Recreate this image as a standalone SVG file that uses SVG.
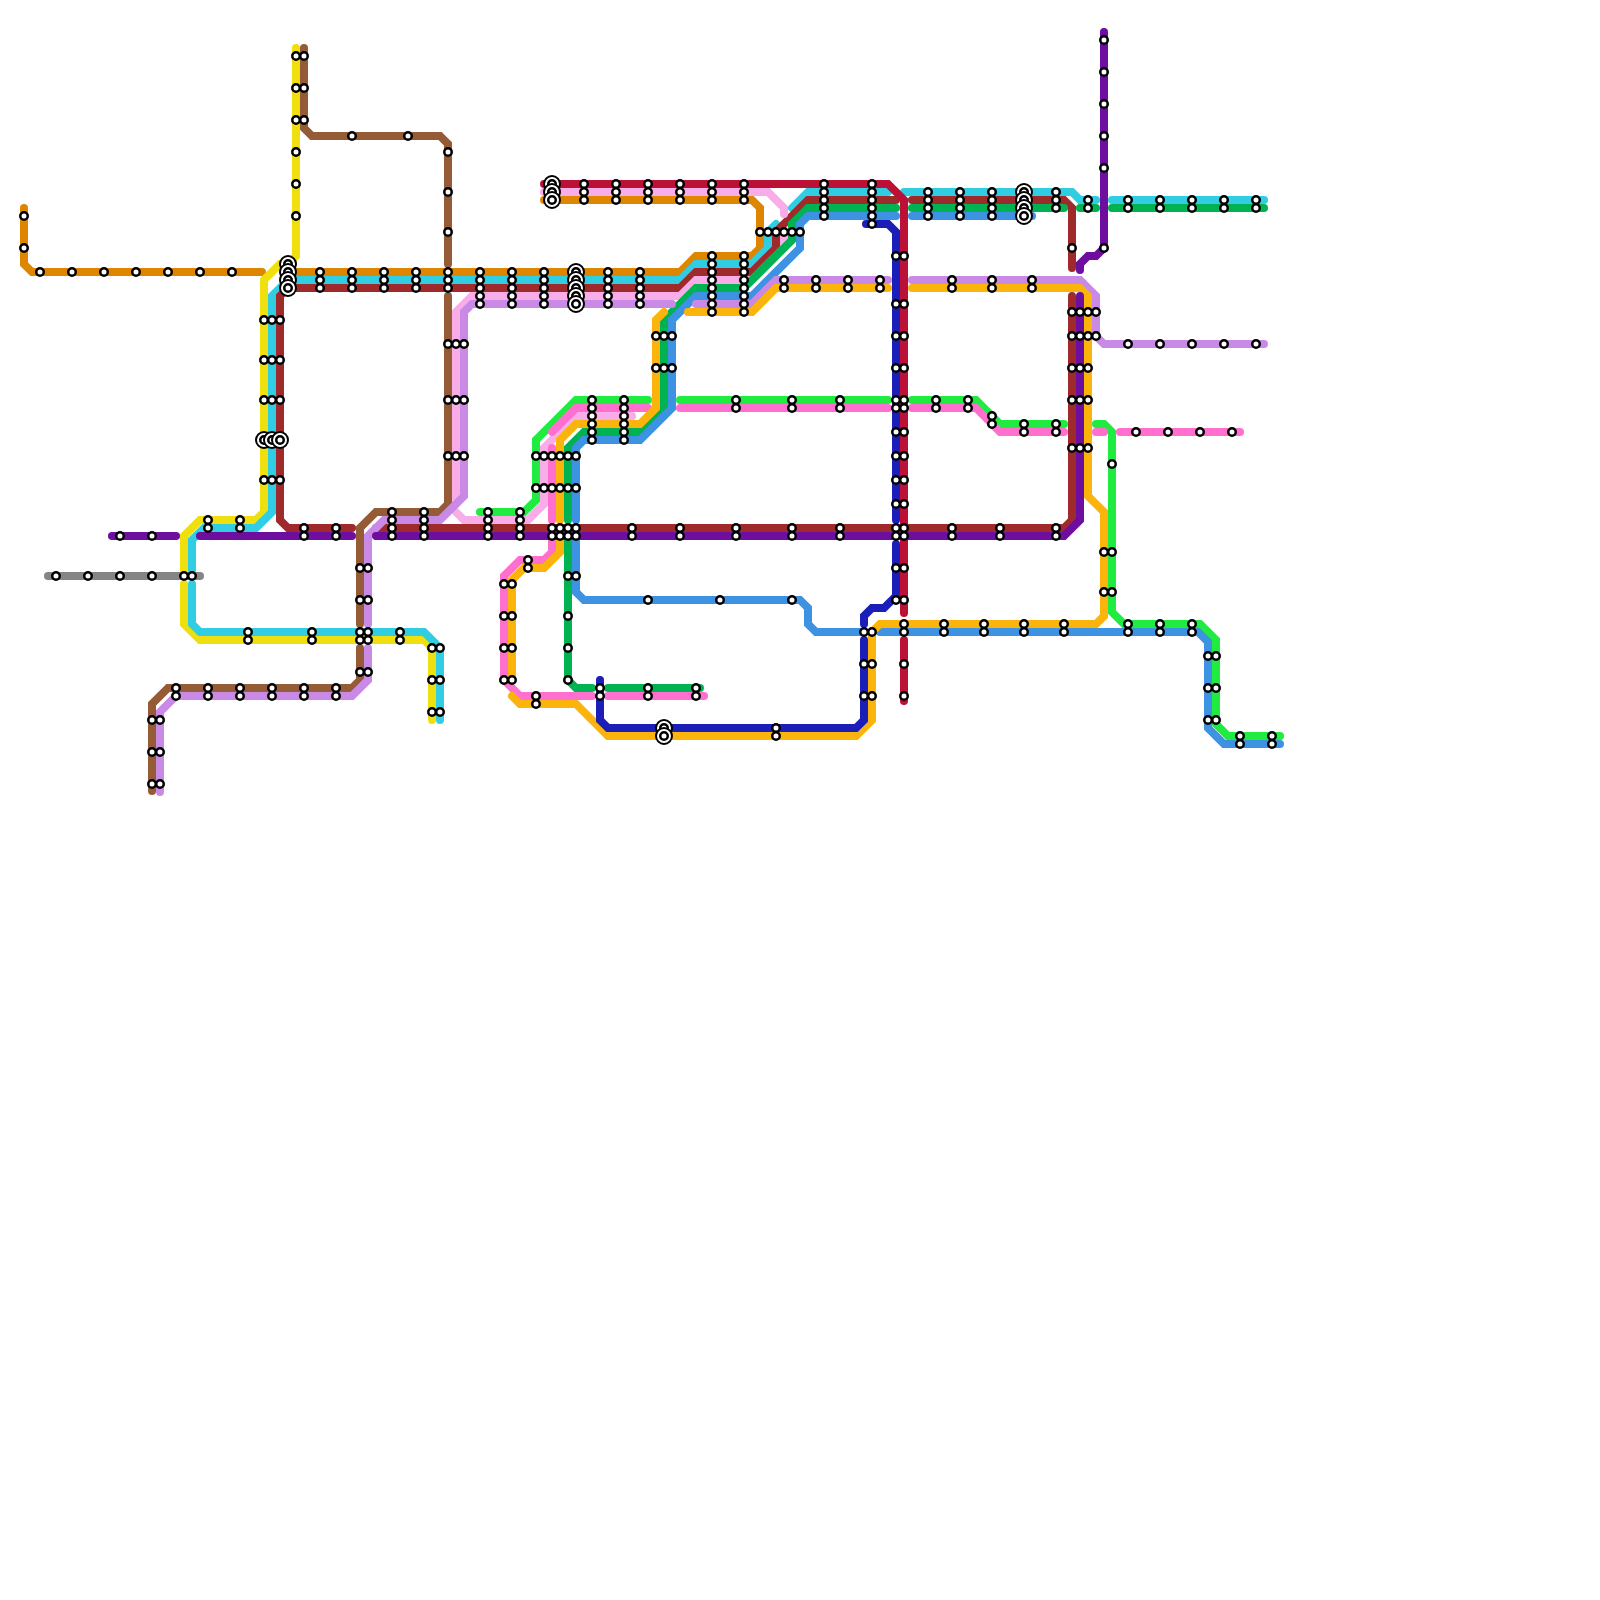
<svg xmlns="http://www.w3.org/2000/svg" width="1600" height="1600" viewBox="0 0 1600 1600">
<style>
path{fill:none;stroke-width:8;stroke-linecap:round;stroke-linejoin:miter}
.o{stroke:#DF8600}.y{stroke:#F0DF0F}.br{stroke:#955B37}.c{stroke:#31CDE3}.dr{stroke:#9E2A2B}.lp{stroke:#F9ADE8}.li{stroke:#C98AE6}.g{stroke:#1FEB41}.p{stroke:#FF70CE}.a{stroke:#FBB40B}.mg{stroke:#00B251}.bl{stroke:#3E92E2}.cr{stroke:#BC1137}.in{stroke:#1B1FB8}.pu{stroke:#6E0E9E}.gy{stroke:#858585}
.s{fill:#fff;stroke:#000;stroke-width:2.5;r:3.75px}
.b{fill:#fff;stroke:#000;stroke-width:2;r:8px}
</style>
<rect width="1600" height="1600" fill="#fff"/>
<g id="connectors">
<path class="gy" d="M48 576H200"/>
<path class="o" d="M24 208V264L32 272H262"/>
<path class="o" d="M544 200H752L760 208V248L752 256H696L680 272H296"/>
<path class="y" d="M296 48V256L288 264H280L264 280V512L256 520H200L184 536V570"/>
<path class="y" d="M184 584V624L200 640H424L432 648V720"/>
<path class="c" d="M192 570V540L204 528H256L272 512V296L288 280H680L696 264H752L768 248V232L776 224"/>
<path class="c" d="M792 208L808 192H888"/>
<path class="c" d="M904 192H1072L1080 200H1096"/>
<path class="c" d="M1112 200H1264"/>
<path class="c" d="M192 584V624L200 632H424L440 648V720"/>
<path class="br" d="M304 48V128L312 136H440L448 144V264"/>
<path class="br" d="M448 296V504L440 512H376L360 528V624"/>
<path class="br" d="M360 648V680L352 688H168L152 704V791"/>
<path class="dr" d="M288 288H680L696 272H752L776 248V232L808 200H896"/>
<path class="dr" d="M912 200H1064L1072 208V268"/>
<path class="dr" d="M288 288L280 296V520L288 528H352"/>
<path class="dr" d="M376 528H1064L1072 520V296"/>
<path class="lp" d="M544 192H768L784 208V214"/>
<path class="lp" d="M784 232V248L752 280H696L680 296H472L456 312V504"/>
<path class="lp" d="M456 512L464 520H528L544 504V448L576 416H632"/>
<path class="g" d="M480 512H524L536 500V440L576 400H648"/>
<path class="g" d="M680 400H888"/>
<path class="g" d="M912 400H976L1000 424H1064"/>
<path class="g" d="M1096 424H1104L1112 432V612L1124 624H1200L1216 640V724L1228 736H1280"/>
<path class="p" d="M648 408H576L552 432"/>
<path class="p" d="M552 448V520"/>
<path class="p" d="M552 540V552L544 560H520L504 576V680L520 696H592"/>
<path class="p" d="M608 696H704"/>
<path class="p" d="M680 408H888"/>
<path class="p" d="M912 408H976L1000 432H1064"/>
<path class="p" d="M1096 432H1104"/>
<path class="p" d="M1120 432H1240"/>
<path class="mg" d="M896 208H808L792 224V240L744 288H696L664 320V408L640 432H584L568 448V520"/>
<path class="mg" d="M568 540V680L576 688H592"/>
<path class="mg" d="M608 688H700"/>
<path class="mg" d="M912 208H1064"/>
<path class="mg" d="M1080 208H1096"/>
<path class="mg" d="M1112 208H1264"/>
<path class="bl" d="M896 216H808L800 224V248L752 296H696L672 320V408L640 440H584L576 448V520"/>
<path class="bl" d="M576 540V592L584 600H800L808 608V624L816 632H864"/>
<path class="bl" d="M880 632H1198L1208 642V728L1224 744H1280"/>
<path class="bl" d="M912 216H1032"/>
<path class="li" d="M672 304H472L464 312V496L440 520H384L368 536V624"/>
<path class="li" d="M368 648V680L352 696H176L160 712V792"/>
<path class="li" d="M696 304H752L776 280H888"/>
<path class="li" d="M912 280H1080L1096 296V336L1104 344H1264"/>
<path class="a" d="M664 312L656 320V408L640 424H576L560 440V520"/>
<path class="a" d="M560 540V552L544 568H524L512 580V680"/>
<path class="a" d="M512 696L520 704H576L608 736H856L872 720V632L880 624H1096L1104 616V512L1088 496V296L1080 288H912"/>
<path class="a" d="M688 312H752L776 288H888"/>
<path class="cr" d="M544 184H888L904 200V613"/>
<path class="cr" d="M904 640V701"/>
<path class="in" d="M866 224H888L896 232V520"/>
<path class="in" d="M896 544V596L884 608H872L864 616V624"/>
<path class="in" d="M864 640V720L856 728H608L600 720V680"/>
<path class="pu" d="M112 536H176"/>
<path class="pu" d="M200 536H352"/>
<path class="pu" d="M376 536H1064L1080 520V296"/>
<path class="pu" d="M1104 32V248L1096 256H1088L1080 264V270"/>
</g>
<g id="stations">
<g id="n-orange"><circle class="s" cx="24" cy="216"/><circle class="s" cx="24" cy="248"/><circle class="s" cx="40" cy="272"/><circle class="s" cx="72" cy="272"/><circle class="s" cx="104" cy="272"/><circle class="s" cx="136" cy="272"/><circle class="s" cx="168" cy="272"/><circle class="s" cx="200" cy="272"/><circle class="s" cx="232" cy="272"/></g>
<g id="n-north"><circle class="s" cx="296" cy="56"/><circle class="s" cx="304" cy="56"/><circle class="s" cx="296" cy="88"/><circle class="s" cx="304" cy="88"/><circle class="s" cx="296" cy="120"/><circle class="s" cx="304" cy="120"/><circle class="s" cx="296" cy="152"/><circle class="s" cx="296" cy="184"/><circle class="s" cx="296" cy="216"/><circle class="s" cx="352" cy="136"/><circle class="s" cx="408" cy="136"/><circle class="s" cx="448" cy="152"/><circle class="s" cx="448" cy="192"/><circle class="s" cx="448" cy="232"/></g>
<g id="n-hub288"><circle class="b" cx="288" cy="264"/><circle class="s" cx="288" cy="264"/><circle class="b" cx="288" cy="272"/><circle class="s" cx="288" cy="272"/><circle class="b" cx="288" cy="280"/><circle class="s" cx="288" cy="280"/><circle class="b" cx="288" cy="288"/><circle class="s" cx="288" cy="288"/></g>
<g id="n-row3"><circle class="s" cx="320" cy="272"/><circle class="s" cx="320" cy="280"/><circle class="s" cx="320" cy="288"/><circle class="s" cx="352" cy="272"/><circle class="s" cx="352" cy="280"/><circle class="s" cx="352" cy="288"/><circle class="s" cx="384" cy="272"/><circle class="s" cx="384" cy="280"/><circle class="s" cx="384" cy="288"/><circle class="s" cx="416" cy="272"/><circle class="s" cx="416" cy="280"/><circle class="s" cx="416" cy="288"/><circle class="s" cx="448" cy="272"/><circle class="s" cx="448" cy="280"/><circle class="s" cx="448" cy="288"/></g>
<g id="n-row5"><circle class="s" cx="480" cy="272"/><circle class="s" cx="480" cy="280"/><circle class="s" cx="480" cy="288"/><circle class="s" cx="480" cy="296"/><circle class="s" cx="480" cy="304"/><circle class="s" cx="512" cy="272"/><circle class="s" cx="512" cy="280"/><circle class="s" cx="512" cy="288"/><circle class="s" cx="512" cy="296"/><circle class="s" cx="512" cy="304"/><circle class="s" cx="544" cy="272"/><circle class="s" cx="544" cy="280"/><circle class="s" cx="544" cy="288"/><circle class="s" cx="544" cy="296"/><circle class="s" cx="544" cy="304"/><circle class="s" cx="608" cy="272"/><circle class="s" cx="608" cy="280"/><circle class="s" cx="608" cy="288"/><circle class="s" cx="608" cy="296"/><circle class="s" cx="608" cy="304"/><circle class="s" cx="640" cy="272"/><circle class="s" cx="640" cy="280"/><circle class="s" cx="640" cy="288"/><circle class="s" cx="640" cy="296"/><circle class="s" cx="640" cy="304"/></g>
<g id="n-hub576"><circle class="b" cx="576" cy="272"/><circle class="s" cx="576" cy="272"/><circle class="b" cx="576" cy="280"/><circle class="s" cx="576" cy="280"/><circle class="b" cx="576" cy="288"/><circle class="s" cx="576" cy="288"/><circle class="b" cx="576" cy="296"/><circle class="s" cx="576" cy="296"/><circle class="b" cx="576" cy="304"/><circle class="s" cx="576" cy="304"/></g>
<g id="n-hub552"><circle class="b" cx="552" cy="184"/><circle class="s" cx="552" cy="184"/><circle class="b" cx="552" cy="192"/><circle class="s" cx="552" cy="192"/><circle class="b" cx="552" cy="200"/><circle class="s" cx="552" cy="200"/></g>
<g id="n-top3"><circle class="s" cx="584" cy="184"/><circle class="s" cx="584" cy="192"/><circle class="s" cx="584" cy="200"/><circle class="s" cx="616" cy="184"/><circle class="s" cx="616" cy="192"/><circle class="s" cx="616" cy="200"/><circle class="s" cx="648" cy="184"/><circle class="s" cx="648" cy="192"/><circle class="s" cx="648" cy="200"/><circle class="s" cx="680" cy="184"/><circle class="s" cx="680" cy="192"/><circle class="s" cx="680" cy="200"/><circle class="s" cx="712" cy="184"/><circle class="s" cx="712" cy="192"/><circle class="s" cx="712" cy="200"/><circle class="s" cx="744" cy="184"/><circle class="s" cx="744" cy="192"/><circle class="s" cx="744" cy="200"/></g>
<g id="n-x712"><circle class="s" cx="712" cy="256"/><circle class="s" cx="712" cy="264"/><circle class="s" cx="712" cy="272"/><circle class="s" cx="712" cy="280"/><circle class="s" cx="712" cy="288"/><circle class="s" cx="712" cy="296"/><circle class="s" cx="712" cy="304"/><circle class="s" cx="712" cy="312"/></g>
<g id="n-x744"><circle class="s" cx="744" cy="256"/><circle class="s" cx="744" cy="264"/><circle class="s" cx="744" cy="272"/><circle class="s" cx="744" cy="280"/><circle class="s" cx="744" cy="288"/><circle class="s" cx="744" cy="296"/><circle class="s" cx="744" cy="304"/><circle class="s" cx="744" cy="312"/></g>
<g id="n-y232"><circle class="s" cx="760" cy="232"/><circle class="s" cx="768" cy="232"/><circle class="s" cx="776" cy="232"/><circle class="s" cx="784" cy="232"/><circle class="s" cx="792" cy="232"/><circle class="s" cx="800" cy="232"/></g>
<g id="n-pairs280"><circle class="s" cx="784" cy="280"/><circle class="s" cx="784" cy="288"/><circle class="s" cx="816" cy="280"/><circle class="s" cx="816" cy="288"/><circle class="s" cx="848" cy="280"/><circle class="s" cx="848" cy="288"/><circle class="s" cx="880" cy="280"/><circle class="s" cx="880" cy="288"/><circle class="s" cx="952" cy="280"/><circle class="s" cx="952" cy="288"/><circle class="s" cx="992" cy="280"/><circle class="s" cx="992" cy="288"/><circle class="s" cx="1032" cy="280"/><circle class="s" cx="1032" cy="288"/></g>
<g id="n-x824"><circle class="s" cx="824" cy="184"/><circle class="s" cx="824" cy="192"/><circle class="s" cx="824" cy="200"/><circle class="s" cx="824" cy="208"/><circle class="s" cx="824" cy="216"/></g>
<g id="n-x872"><circle class="s" cx="872" cy="184"/><circle class="s" cx="872" cy="192"/><circle class="s" cx="872" cy="200"/><circle class="s" cx="872" cy="208"/><circle class="s" cx="872" cy="216"/><circle class="s" cx="872" cy="224"/></g>
<g id="n-east4"><circle class="s" cx="928" cy="192"/><circle class="s" cx="928" cy="200"/><circle class="s" cx="928" cy="208"/><circle class="s" cx="928" cy="216"/><circle class="s" cx="960" cy="192"/><circle class="s" cx="960" cy="200"/><circle class="s" cx="960" cy="208"/><circle class="s" cx="960" cy="216"/><circle class="s" cx="992" cy="192"/><circle class="s" cx="992" cy="200"/><circle class="s" cx="992" cy="208"/><circle class="s" cx="992" cy="216"/></g>
<g id="n-hub1024"><circle class="b" cx="1024" cy="192"/><circle class="s" cx="1024" cy="192"/><circle class="b" cx="1024" cy="200"/><circle class="s" cx="1024" cy="200"/><circle class="b" cx="1024" cy="208"/><circle class="s" cx="1024" cy="208"/><circle class="b" cx="1024" cy="216"/><circle class="s" cx="1024" cy="216"/></g>
<g id="n-east"><circle class="s" cx="1056" cy="192"/><circle class="s" cx="1056" cy="200"/><circle class="s" cx="1056" cy="208"/><circle class="s" cx="1088" cy="200"/><circle class="s" cx="1088" cy="208"/><circle class="s" cx="1128" cy="200"/><circle class="s" cx="1128" cy="208"/><circle class="s" cx="1160" cy="200"/><circle class="s" cx="1160" cy="208"/><circle class="s" cx="1192" cy="200"/><circle class="s" cx="1192" cy="208"/><circle class="s" cx="1224" cy="200"/><circle class="s" cx="1224" cy="208"/><circle class="s" cx="1256" cy="200"/><circle class="s" cx="1256" cy="208"/><circle class="s" cx="1072" cy="248"/></g>
<g id="n-purple-n"><circle class="s" cx="1104" cy="40"/><circle class="s" cx="1104" cy="72"/><circle class="s" cx="1104" cy="104"/><circle class="s" cx="1104" cy="136"/><circle class="s" cx="1104" cy="168"/><circle class="s" cx="1104" cy="248"/></g>
<g id="n-lilac-e"><circle class="s" cx="1128" cy="344"/><circle class="s" cx="1160" cy="344"/><circle class="s" cx="1192" cy="344"/><circle class="s" cx="1224" cy="344"/><circle class="s" cx="1256" cy="344"/></g>
<g id="n-x1072"><circle class="s" cx="1072" cy="312"/><circle class="s" cx="1080" cy="312"/><circle class="s" cx="1088" cy="312"/><circle class="s" cx="1096" cy="312"/><circle class="s" cx="1072" cy="336"/><circle class="s" cx="1080" cy="336"/><circle class="s" cx="1088" cy="336"/><circle class="s" cx="1096" cy="336"/><circle class="s" cx="1072" cy="368"/><circle class="s" cx="1080" cy="368"/><circle class="s" cx="1088" cy="368"/><circle class="s" cx="1072" cy="400"/><circle class="s" cx="1080" cy="400"/><circle class="s" cx="1088" cy="400"/><circle class="s" cx="1072" cy="448"/><circle class="s" cx="1080" cy="448"/><circle class="s" cx="1088" cy="448"/></g>
<g id="n-col896"><circle class="s" cx="896" cy="256"/><circle class="s" cx="904" cy="256"/><circle class="s" cx="896" cy="304"/><circle class="s" cx="904" cy="304"/><circle class="s" cx="896" cy="336"/><circle class="s" cx="904" cy="336"/><circle class="s" cx="896" cy="368"/><circle class="s" cx="904" cy="368"/><circle class="s" cx="896" cy="400"/><circle class="s" cx="904" cy="400"/><circle class="s" cx="896" cy="408"/><circle class="s" cx="904" cy="408"/><circle class="s" cx="896" cy="432"/><circle class="s" cx="904" cy="432"/><circle class="s" cx="896" cy="456"/><circle class="s" cx="904" cy="456"/><circle class="s" cx="896" cy="480"/><circle class="s" cx="904" cy="480"/><circle class="s" cx="896" cy="504"/><circle class="s" cx="904" cy="504"/><circle class="s" cx="896" cy="528"/><circle class="s" cx="904" cy="528"/><circle class="s" cx="896" cy="536"/><circle class="s" cx="904" cy="536"/><circle class="s" cx="896" cy="568"/><circle class="s" cx="904" cy="568"/><circle class="s" cx="896" cy="600"/><circle class="s" cx="904" cy="600"/><circle class="s" cx="904" cy="664"/><circle class="s" cx="904" cy="696"/></g>
<g id="n-green400"><circle class="s" cx="736" cy="400"/><circle class="s" cx="736" cy="408"/><circle class="s" cx="792" cy="400"/><circle class="s" cx="792" cy="408"/><circle class="s" cx="840" cy="400"/><circle class="s" cx="840" cy="408"/><circle class="s" cx="936" cy="400"/><circle class="s" cx="936" cy="408"/><circle class="s" cx="968" cy="400"/><circle class="s" cx="968" cy="408"/><circle class="s" cx="992" cy="416"/><circle class="s" cx="992" cy="424"/><circle class="s" cx="1024" cy="424"/><circle class="s" cx="1024" cy="432"/><circle class="s" cx="1056" cy="424"/><circle class="s" cx="1056" cy="432"/></g>
<g id="n-pink-e"><circle class="s" cx="1136" cy="432"/><circle class="s" cx="1168" cy="432"/><circle class="s" cx="1200" cy="432"/><circle class="s" cx="1232" cy="432"/><circle class="s" cx="1112" cy="464"/></g>
<g id="n-amber-green"><circle class="s" cx="1104" cy="552"/><circle class="s" cx="1112" cy="552"/><circle class="s" cx="1104" cy="592"/><circle class="s" cx="1112" cy="592"/></g>
<g id="n-y624"><circle class="s" cx="904" cy="624"/><circle class="s" cx="904" cy="632"/><circle class="s" cx="944" cy="624"/><circle class="s" cx="944" cy="632"/><circle class="s" cx="984" cy="624"/><circle class="s" cx="984" cy="632"/><circle class="s" cx="1024" cy="624"/><circle class="s" cx="1024" cy="632"/><circle class="s" cx="1064" cy="624"/><circle class="s" cx="1064" cy="632"/><circle class="s" cx="1128" cy="624"/><circle class="s" cx="1128" cy="632"/><circle class="s" cx="1160" cy="624"/><circle class="s" cx="1160" cy="632"/><circle class="s" cx="1192" cy="624"/><circle class="s" cx="1192" cy="632"/></g>
<g id="n-se"><circle class="s" cx="1208" cy="656"/><circle class="s" cx="1216" cy="656"/><circle class="s" cx="1208" cy="688"/><circle class="s" cx="1216" cy="688"/><circle class="s" cx="1208" cy="720"/><circle class="s" cx="1216" cy="720"/><circle class="s" cx="1240" cy="736"/><circle class="s" cx="1240" cy="744"/><circle class="s" cx="1272" cy="736"/><circle class="s" cx="1272" cy="744"/></g>
<g id="n-x864"><circle class="s" cx="864" cy="632"/><circle class="s" cx="872" cy="632"/><circle class="s" cx="864" cy="664"/><circle class="s" cx="872" cy="664"/><circle class="s" cx="864" cy="696"/><circle class="s" cx="872" cy="696"/></g>
<g id="n-y528"><circle class="s" cx="304" cy="528"/><circle class="s" cx="304" cy="536"/><circle class="s" cx="336" cy="528"/><circle class="s" cx="336" cy="536"/><circle class="s" cx="552" cy="528"/><circle class="s" cx="552" cy="536"/><circle class="s" cx="560" cy="528"/><circle class="s" cx="560" cy="536"/><circle class="s" cx="568" cy="528"/><circle class="s" cx="568" cy="536"/><circle class="s" cx="576" cy="528"/><circle class="s" cx="576" cy="536"/><circle class="s" cx="632" cy="528"/><circle class="s" cx="632" cy="536"/><circle class="s" cx="680" cy="528"/><circle class="s" cx="680" cy="536"/><circle class="s" cx="736" cy="528"/><circle class="s" cx="736" cy="536"/><circle class="s" cx="792" cy="528"/><circle class="s" cx="792" cy="536"/><circle class="s" cx="840" cy="528"/><circle class="s" cx="840" cy="536"/><circle class="s" cx="952" cy="528"/><circle class="s" cx="952" cy="536"/><circle class="s" cx="1000" cy="528"/><circle class="s" cx="1000" cy="536"/><circle class="s" cx="1056" cy="528"/><circle class="s" cx="1056" cy="536"/></g>
<g id="n-y512"><circle class="s" cx="392" cy="512"/><circle class="s" cx="392" cy="520"/><circle class="s" cx="392" cy="528"/><circle class="s" cx="392" cy="536"/><circle class="s" cx="424" cy="512"/><circle class="s" cx="424" cy="520"/><circle class="s" cx="424" cy="528"/><circle class="s" cx="424" cy="536"/><circle class="s" cx="488" cy="512"/><circle class="s" cx="488" cy="520"/><circle class="s" cx="488" cy="528"/><circle class="s" cx="488" cy="536"/><circle class="s" cx="520" cy="512"/><circle class="s" cx="520" cy="520"/><circle class="s" cx="520" cy="528"/><circle class="s" cx="520" cy="536"/></g>
<g id="n-x264"><circle class="s" cx="264" cy="320"/><circle class="s" cx="272" cy="320"/><circle class="s" cx="280" cy="320"/><circle class="s" cx="264" cy="360"/><circle class="s" cx="272" cy="360"/><circle class="s" cx="280" cy="360"/><circle class="s" cx="264" cy="400"/><circle class="s" cx="272" cy="400"/><circle class="s" cx="280" cy="400"/><circle class="s" cx="264" cy="480"/><circle class="s" cx="272" cy="480"/><circle class="s" cx="280" cy="480"/></g>
<g id="n-hub440"><circle class="b" cx="264" cy="440"/><circle class="s" cx="264" cy="440"/><circle class="b" cx="272" cy="440"/><circle class="s" cx="272" cy="440"/><circle class="b" cx="280" cy="440"/><circle class="s" cx="280" cy="440"/></g>
<g id="n-x448"><circle class="s" cx="448" cy="344"/><circle class="s" cx="456" cy="344"/><circle class="s" cx="464" cy="344"/><circle class="s" cx="448" cy="400"/><circle class="s" cx="456" cy="400"/><circle class="s" cx="464" cy="400"/><circle class="s" cx="448" cy="456"/><circle class="s" cx="456" cy="456"/><circle class="s" cx="464" cy="456"/></g>
<g id="n-sw"><circle class="s" cx="120" cy="536"/><circle class="s" cx="152" cy="536"/><circle class="s" cx="56" cy="576"/><circle class="s" cx="88" cy="576"/><circle class="s" cx="120" cy="576"/><circle class="s" cx="152" cy="576"/><circle class="s" cx="184" cy="576"/><circle class="s" cx="192" cy="576"/><circle class="s" cx="208" cy="520"/><circle class="s" cx="208" cy="528"/><circle class="s" cx="240" cy="520"/><circle class="s" cx="240" cy="528"/></g>
<g id="n-y632"><circle class="s" cx="248" cy="632"/><circle class="s" cx="248" cy="640"/><circle class="s" cx="312" cy="632"/><circle class="s" cx="312" cy="640"/><circle class="s" cx="360" cy="632"/><circle class="s" cx="360" cy="640"/><circle class="s" cx="368" cy="632"/><circle class="s" cx="368" cy="640"/><circle class="s" cx="400" cy="632"/><circle class="s" cx="400" cy="640"/><circle class="s" cx="360" cy="568"/><circle class="s" cx="368" cy="568"/><circle class="s" cx="360" cy="600"/><circle class="s" cx="368" cy="600"/><circle class="s" cx="360" cy="672"/><circle class="s" cx="368" cy="672"/><circle class="s" cx="432" cy="648"/><circle class="s" cx="440" cy="648"/><circle class="s" cx="432" cy="680"/><circle class="s" cx="440" cy="680"/><circle class="s" cx="432" cy="712"/><circle class="s" cx="440" cy="712"/></g>
<g id="n-y688"><circle class="s" cx="176" cy="688"/><circle class="s" cx="176" cy="696"/><circle class="s" cx="208" cy="688"/><circle class="s" cx="208" cy="696"/><circle class="s" cx="240" cy="688"/><circle class="s" cx="240" cy="696"/><circle class="s" cx="272" cy="688"/><circle class="s" cx="272" cy="696"/><circle class="s" cx="304" cy="688"/><circle class="s" cx="304" cy="696"/><circle class="s" cx="336" cy="688"/><circle class="s" cx="336" cy="696"/><circle class="s" cx="152" cy="720"/><circle class="s" cx="160" cy="720"/><circle class="s" cx="152" cy="752"/><circle class="s" cx="160" cy="752"/><circle class="s" cx="152" cy="784"/><circle class="s" cx="160" cy="784"/></g>
<g id="n-y400"><circle class="s" cx="592" cy="400"/><circle class="s" cx="592" cy="408"/><circle class="s" cx="592" cy="416"/><circle class="s" cx="592" cy="424"/><circle class="s" cx="592" cy="432"/><circle class="s" cx="592" cy="440"/><circle class="s" cx="624" cy="400"/><circle class="s" cx="624" cy="408"/><circle class="s" cx="624" cy="416"/><circle class="s" cx="624" cy="424"/><circle class="s" cx="624" cy="432"/><circle class="s" cx="624" cy="440"/></g>
<g id="n-y456"><circle class="s" cx="536" cy="456"/><circle class="s" cx="544" cy="456"/><circle class="s" cx="552" cy="456"/><circle class="s" cx="560" cy="456"/><circle class="s" cx="568" cy="456"/><circle class="s" cx="576" cy="456"/><circle class="s" cx="536" cy="488"/><circle class="s" cx="544" cy="488"/><circle class="s" cx="552" cy="488"/><circle class="s" cx="560" cy="488"/><circle class="s" cx="568" cy="488"/><circle class="s" cx="576" cy="488"/></g>
<g id="n-x656"><circle class="s" cx="656" cy="336"/><circle class="s" cx="664" cy="336"/><circle class="s" cx="672" cy="336"/><circle class="s" cx="656" cy="368"/><circle class="s" cx="664" cy="368"/><circle class="s" cx="672" cy="368"/></g>
<g id="n-south"><circle class="s" cx="528" cy="560"/><circle class="s" cx="528" cy="568"/><circle class="s" cx="568" cy="576"/><circle class="s" cx="576" cy="576"/><circle class="s" cx="504" cy="584"/><circle class="s" cx="512" cy="584"/><circle class="s" cx="504" cy="616"/><circle class="s" cx="512" cy="616"/><circle class="s" cx="504" cy="648"/><circle class="s" cx="512" cy="648"/><circle class="s" cx="504" cy="680"/><circle class="s" cx="512" cy="680"/><circle class="s" cx="568" cy="616"/><circle class="s" cx="568" cy="648"/><circle class="s" cx="568" cy="680"/><circle class="s" cx="648" cy="600"/><circle class="s" cx="720" cy="600"/><circle class="s" cx="792" cy="600"/><circle class="s" cx="536" cy="696"/><circle class="s" cx="536" cy="704"/><circle class="s" cx="600" cy="688"/><circle class="s" cx="600" cy="696"/><circle class="s" cx="648" cy="688"/><circle class="s" cx="648" cy="696"/><circle class="s" cx="696" cy="688"/><circle class="s" cx="696" cy="696"/><circle class="s" cx="776" cy="728"/><circle class="s" cx="776" cy="736"/></g>
<g id="n-hub664"><circle class="b" cx="664" cy="728"/><circle class="s" cx="664" cy="728"/><circle class="b" cx="664" cy="736"/><circle class="s" cx="664" cy="736"/></g>
</g>
</svg>
